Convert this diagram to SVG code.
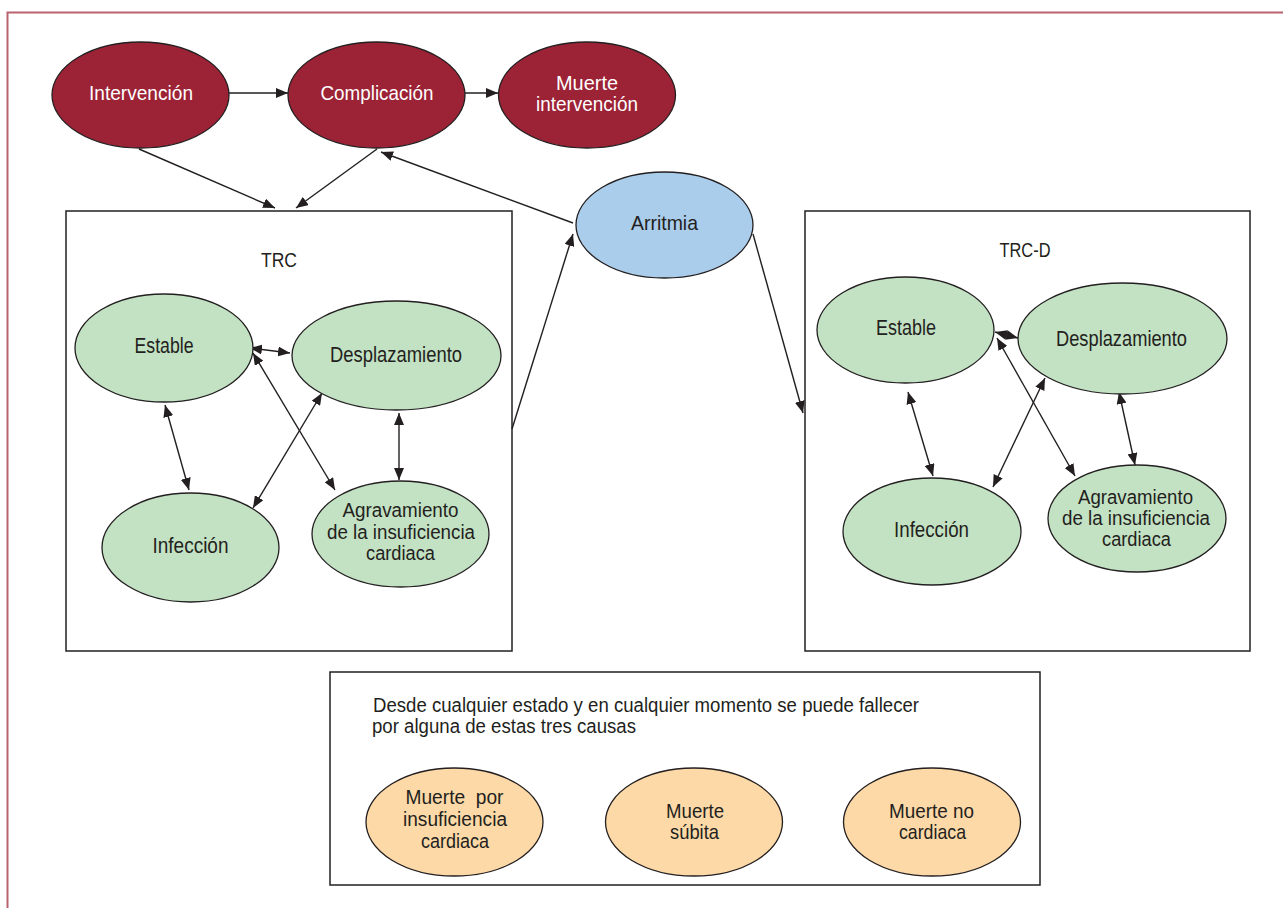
<svg xmlns="http://www.w3.org/2000/svg" width="1283" height="908" viewBox="0 0 1283 908">
<style>
text{font-family:"Liberation Sans",Arial,sans-serif;text-anchor:middle;fill:#231f20;font-size:22px}
.w{fill:#ffffff;font-size:21px}
.s{font-size:21px}
.m{font-size:20px}
.l{text-anchor:start;font-size:20px}
.red{fill:#9c2236;stroke:#231f20;stroke-width:1.3}
.grn{fill:#c3e2c4;stroke:#231f20;stroke-width:1.3}
.blu{fill:#abcdec;stroke:#231f20;stroke-width:1.3}
.org{fill:#fdd9a7;stroke:#231f20;stroke-width:1.3}
.box{fill:none;stroke:#231f20;stroke-width:1.5}
.c{stroke:#231f20;stroke-width:1.4;fill:none}
.a{marker-end:url(#ah)}
.d{marker-start:url(#ah);marker-end:url(#ah)}
</style>
<defs>
<marker id="ah" viewBox="0 0 12 10" refX="12" refY="5" markerWidth="12" markerHeight="10" markerUnits="userSpaceOnUse" orient="auto-start-reverse">
<path d="M0,0 L12,5 L0,10 z" fill="#231f20"/>
</marker>
</defs>
<rect width="1283" height="908" fill="#ffffff"/>
<path d="M7.5,908 V12.5 H1283" fill="none" stroke="#b9636f" stroke-width="2"/>

<g id="box-trc"><rect class="box" x="66" y="211" width="446" height="440"/><text x="279" y="267" class="s" textLength="36" lengthAdjust="spacingAndGlyphs">TRC</text></g>
<g id="box-trcd"><rect class="box" x="805" y="211" width="445" height="440"/><text x="1025" y="257" class="s" textLength="51" lengthAdjust="spacingAndGlyphs">TRC-D</text></g>
<g id="box-muerte"><rect class="box" x="330" y="672" width="710" height="213"/>
<text x="373" y="712" class="l" textLength="546" lengthAdjust="spacingAndGlyphs">Desde cualquier estado y en cualquier momento se puede fallecer</text>
<text x="372" y="733" class="l" textLength="264" lengthAdjust="spacingAndGlyphs">por alguna de estas tres causas</text></g>

<g id="connectors">
<line class="c a" x1="229" y1="93" x2="288" y2="93"/>
<line class="c a" x1="465" y1="93" x2="498" y2="93"/>
<line class="c a" x1="139" y1="149" x2="275" y2="208"/>
<line class="c a" x1="377" y1="149" x2="296" y2="208"/>
<line class="c a" x1="573" y1="223" x2="381" y2="152"/>
<line class="c a" x1="512" y1="429" x2="573" y2="234"/>
<line class="c a" x1="753" y1="234" x2="803" y2="413"/>
<line class="c d" x1="250" y1="348" x2="290" y2="353"/>
<line class="c d" x1="253" y1="353" x2="335" y2="490"/>
<line class="c d" x1="165" y1="405" x2="189" y2="490"/>
<line class="c d" x1="322" y1="393" x2="253" y2="508"/>
<line class="c d" x1="399" y1="413" x2="399" y2="480"/>
<line class="c d" x1="995" y1="332" x2="1018" y2="338"/>
<line class="c d" x1="997" y1="338" x2="1075" y2="476"/>
<line class="c d" x1="908" y1="392" x2="933" y2="476"/>
<line class="c d" x1="1045" y1="378" x2="993" y2="487"/>
<line class="c d" x1="1119" y1="392" x2="1135" y2="465"/>
</g>

<g id="n-intervencion"><ellipse class="red" cx="140.5" cy="95" rx="88.5" ry="53"/><text class="w" x="141" y="100" textLength="104" lengthAdjust="spacingAndGlyphs">Intervención</text></g>
<g id="n-complicacion"><ellipse class="red" cx="376.5" cy="95" rx="88.5" ry="53"/><text class="w" x="377" y="100" textLength="113" lengthAdjust="spacingAndGlyphs">Complicación</text></g>
<g id="n-muerte-intervencion"><ellipse class="red" cx="587" cy="95" rx="88.5" ry="53"/><text class="w" x="587" y="90" textLength="62" lengthAdjust="spacingAndGlyphs">Muerte</text><text class="w" x="587" y="111" textLength="102" lengthAdjust="spacingAndGlyphs">intervención</text></g>
<g id="n-arritmia"><ellipse class="blu" cx="664.5" cy="225" rx="88.5" ry="53"/><text class="s" x="664.5" y="230" textLength="67" lengthAdjust="spacingAndGlyphs">Arritmia</text></g>

<g id="trc-estable"><ellipse class="grn" cx="164" cy="348" rx="89" ry="54"/><text x="164" y="353" textLength="59" lengthAdjust="spacingAndGlyphs">Estable</text></g>
<g id="trc-desplazamiento"><ellipse class="grn" cx="396.5" cy="355.5" rx="104.5" ry="54.5"/><text x="396" y="362" textLength="132" lengthAdjust="spacingAndGlyphs">Desplazamiento</text></g>
<g id="trc-infeccion"><ellipse class="grn" cx="190.5" cy="547.5" rx="88.5" ry="54.5"/><text x="190.5" y="553" textLength="76" lengthAdjust="spacingAndGlyphs">Infección</text></g>
<g id="trc-agravamiento"><ellipse class="grn" cx="400.5" cy="534" rx="88.5" ry="53"/><text class="m" x="400.5" y="517" textLength="116" lengthAdjust="spacingAndGlyphs">Agravamiento</text><text class="m" x="401" y="539" textLength="148" lengthAdjust="spacingAndGlyphs">de la insuficiencia</text><text class="m" x="400.5" y="560" textLength="69" lengthAdjust="spacingAndGlyphs">cardiaca</text></g>

<g id="trcd-estable"><ellipse class="grn" cx="905.5" cy="330" rx="88.5" ry="53"/><text x="906" y="335" textLength="60" lengthAdjust="spacingAndGlyphs">Estable</text></g>
<g id="trcd-desplazamiento"><ellipse class="grn" cx="1122.5" cy="338.5" rx="104.5" ry="55.5"/><text x="1121.5" y="346" textLength="131" lengthAdjust="spacingAndGlyphs">Desplazamiento</text></g>
<g id="trcd-infeccion"><ellipse class="grn" cx="932" cy="531.5" rx="89" ry="53.5"/><text x="931.5" y="537" textLength="75" lengthAdjust="spacingAndGlyphs">Infección</text></g>
<g id="trcd-agravamiento"><ellipse class="grn" cx="1137" cy="518.5" rx="89" ry="53.5"/><text class="m" x="1135.5" y="504" textLength="115" lengthAdjust="spacingAndGlyphs">Agravamiento</text><text class="m" x="1136" y="525" textLength="148" lengthAdjust="spacingAndGlyphs">de la insuficiencia</text><text class="m" x="1136.5" y="546" textLength="69" lengthAdjust="spacingAndGlyphs">cardiaca</text></g>

<g id="m-insuficiencia"><ellipse class="org" cx="454.5" cy="822" rx="88.5" ry="54"/><text class="m" x="454.5" y="804" textLength="98" lengthAdjust="spacingAndGlyphs" xml:space="preserve">Muerte  por</text><text class="m" x="455" y="826" textLength="104" lengthAdjust="spacingAndGlyphs">insuficiencia</text><text class="m" x="455" y="848" textLength="68" lengthAdjust="spacingAndGlyphs">cardiaca</text></g>
<g id="m-subita"><ellipse class="org" cx="694" cy="822" rx="88.5" ry="54"/><text class="s" x="695" y="818" textLength="58" lengthAdjust="spacingAndGlyphs">Muerte</text><text class="s" x="694.5" y="839" textLength="49" lengthAdjust="spacingAndGlyphs">súbita</text></g>
<g id="m-nocardiaca"><ellipse class="org" cx="932" cy="822" rx="88.5" ry="54"/><text class="s" x="931.5" y="818" textLength="85" lengthAdjust="spacingAndGlyphs">Muerte no</text><text class="s" x="932.5" y="839" textLength="67" lengthAdjust="spacingAndGlyphs">cardiaca</text></g>
</svg>
